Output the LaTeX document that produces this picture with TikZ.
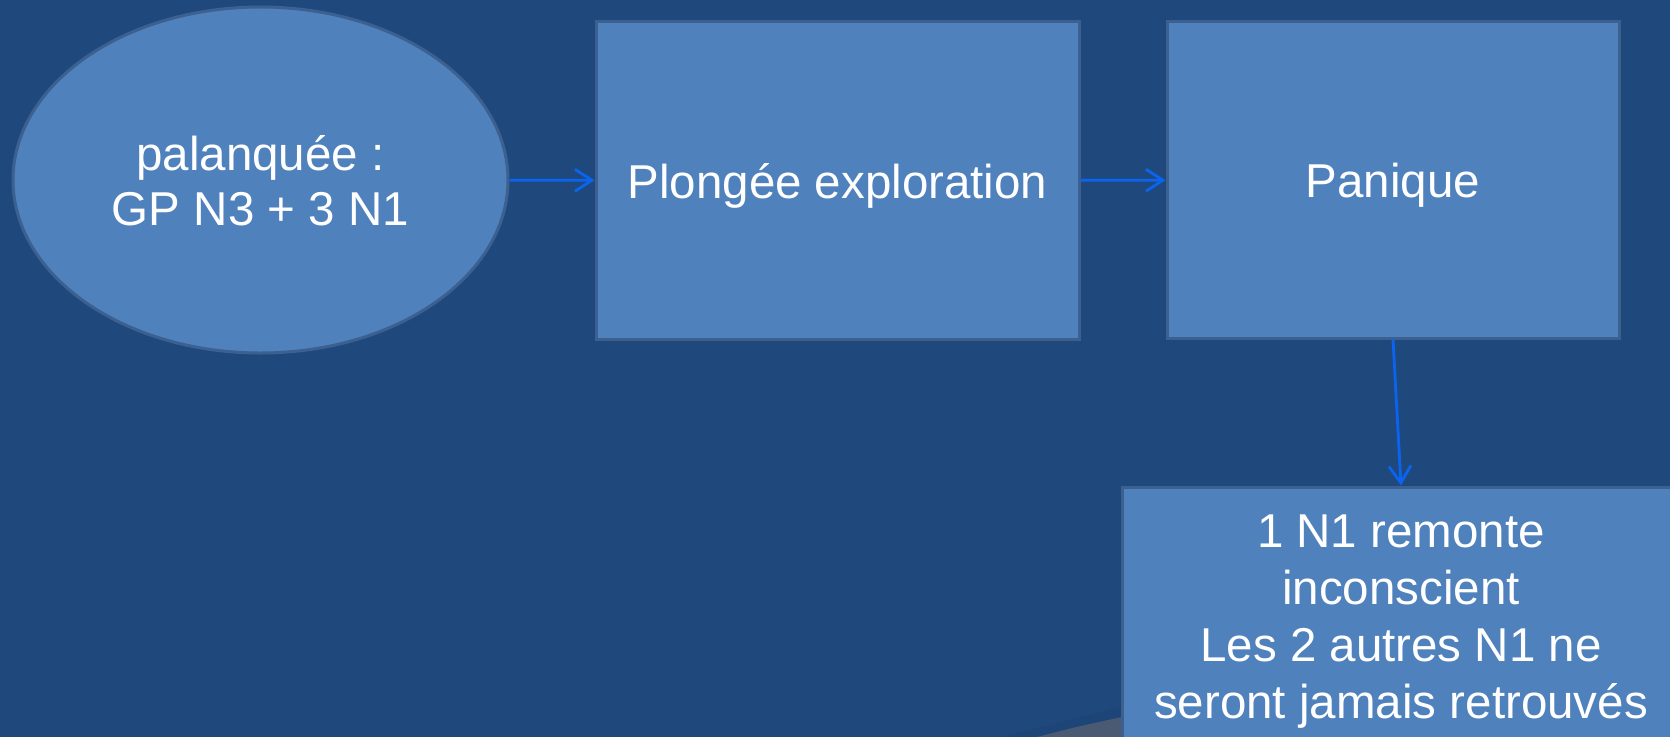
\documentclass[tikz,border=0pt]{standalone}
\usepackage{fontspec}
\setmainfont{Liberation Sans}
\usetikzlibrary{shapes.geometric,arrows.meta}
\definecolor{bgblue}{HTML}{1F497D}
\definecolor{boxfill}{HTML}{4F81BD}
\definecolor{boxline}{HTML}{3C6090}
\definecolor{arrowblue}{HTML}{0A64F0}
\definecolor{shadowgray}{HTML}{4A5A72}
\definecolor{shadowdark}{HTML}{1D4578}
\newcommand\pstrut{\rule[-10bp]{0pt}{55bp}}
\tikzset{
  shapebox/.style={draw=boxline, fill=boxfill, line width=3bp, text=white, inner sep=0pt,
    font=\fontsize{47.5bp}{57bp}\selectfont, align=center},
  rectbox/.style={shapebox, rectangle},
  ovalbox/.style={shapebox, ellipse, font=\fontsize{47.5bp}{55bp}\selectfont},
  flow/.style={draw=arrowblue, line width=2.8bp, -{Straight Barb[length=17bp,width=22bp,line width=2.8bp]}}
}
\begin{document}
\begin{tikzpicture}[x=1bp,y=-1bp]
\fill[bgblue] (0,0) rectangle (1670,737);
\useasboundingbox (0,0) rectangle (1670,737);
% page-curl shadow at the bottom
\fill[shadowdark] (1000,737) .. controls (1055,724) .. (1122,706) -- (1122,737) -- cycle;
\fill[shadowgray] (1037,737) .. controls (1080,726) .. (1122,717) -- (1122,737) -- cycle;
\node[ovalbox, minimum width=495bp, minimum height=346bp] (start) at (260.5,180) {\pstrut palanquée :\\\pstrut GP N3 + 3 N1};
\node[rectbox, minimum width=483bp, minimum height=317bp] (explo) at (837.5,180.5) {\pstrut Plongée exploration};
\node[rectbox, minimum width=452bp, minimum height=316bp] (panic) at (1393,180) {\pstrut Panique};
\node[rectbox, minimum width=558bp, minimum height=256bp] (result) at (1401,615) {\pstrut 1 N1 remonte\\\pstrut inconscient\\\pstrut Les 2 autres N1 ne\\\pstrut seront jamais retrouvés};
\draw[flow] (start) -- (explo);
\draw[flow] (explo) -- (panic);
\draw[flow] (panic.south) -- (result.north);
\end{tikzpicture}
\end{document}
